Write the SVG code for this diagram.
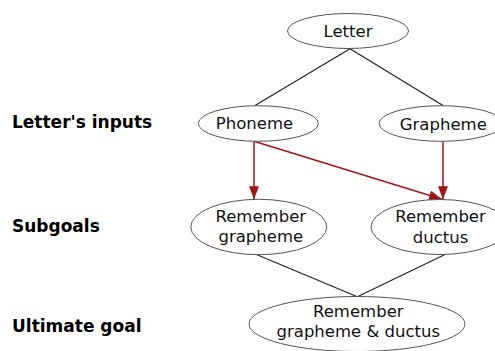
<svg xmlns="http://www.w3.org/2000/svg" width="495" height="351" viewBox="0 0 495 351">
<style>
.n ellipse{fill:#fff;stroke:#555;stroke-width:1}
.n text{font-family:"DejaVu Sans",sans-serif;font-size:16.5px;fill:#111;text-anchor:middle}
.lbl{font-family:"DejaVu Sans",sans-serif;font-size:17px;font-weight:bold;fill:#000}
.k{stroke:#222;stroke-width:1.2;fill:none}
.r{stroke:#a31515;stroke-width:1.5;fill:none;marker-end:url(#ah)}
</style>
<defs>
<marker id="ah" viewBox="0 0 13 10" refX="13" refY="5" markerWidth="13" markerHeight="10" markerUnits="userSpaceOnUse" orient="auto">
<path d="M0,0 L13,5 L0,10 z" fill="#a31515"/>
</marker>
</defs>
<rect width="495" height="351" fill="#fff"/>
<g id="connectors">
<line class="k" x1="350" y1="48.7" x2="255" y2="105.5"/>
<line class="k" x1="350" y1="48.7" x2="443" y2="105.5"/>
<line class="r" x1="254" y1="141.3" x2="254" y2="199.3"/>
<line class="r" x1="254" y1="141.3" x2="442" y2="199.3"/>
<line class="r" x1="443" y1="141.3" x2="443" y2="199.3"/>
<line class="k" x1="257" y1="254.7" x2="357.3" y2="296.7"/>
<line class="k" x1="445" y1="254.5" x2="357.3" y2="296.7"/>
</g>
<g id="letter" class="n"><ellipse cx="348" cy="31" rx="60.5" ry="17.5"/><text x="348" y="37">Letter</text></g>
<g id="phoneme" class="n"><ellipse cx="258.3" cy="123.5" rx="60" ry="17.8"/><text x="254.5" y="128.7">Phoneme</text></g>
<g id="grapheme" class="n"><ellipse cx="441" cy="123.5" rx="62" ry="17.8"/><text x="443.3" y="129.5">Grapheme</text></g>
<g id="rem-grapheme" class="n"><ellipse cx="258.8" cy="227" rx="68" ry="27.7"/><text x="260.8" y="222.3">Remember</text><text x="260.8" y="241.7">grapheme</text></g>
<g id="rem-ductus" class="n"><ellipse cx="440" cy="227" rx="69" ry="27.5"/><text x="440.5" y="222.3">Remember</text><text x="440.5" y="242.5">ductus</text></g>
<g id="rem-both" class="n"><ellipse cx="357" cy="324" rx="108" ry="27.5"/><text x="358.3" y="316.7">Remember</text><text x="358.3" y="336.7">grapheme &amp; ductus</text></g>
<g id="labels">
<text class="lbl" x="12" y="128.3">Letter's inputs</text>
<text class="lbl" x="12" y="231.7">Subgoals</text>
<text class="lbl" x="12" y="331.7">Ultimate goal</text>
</g>
</svg>
